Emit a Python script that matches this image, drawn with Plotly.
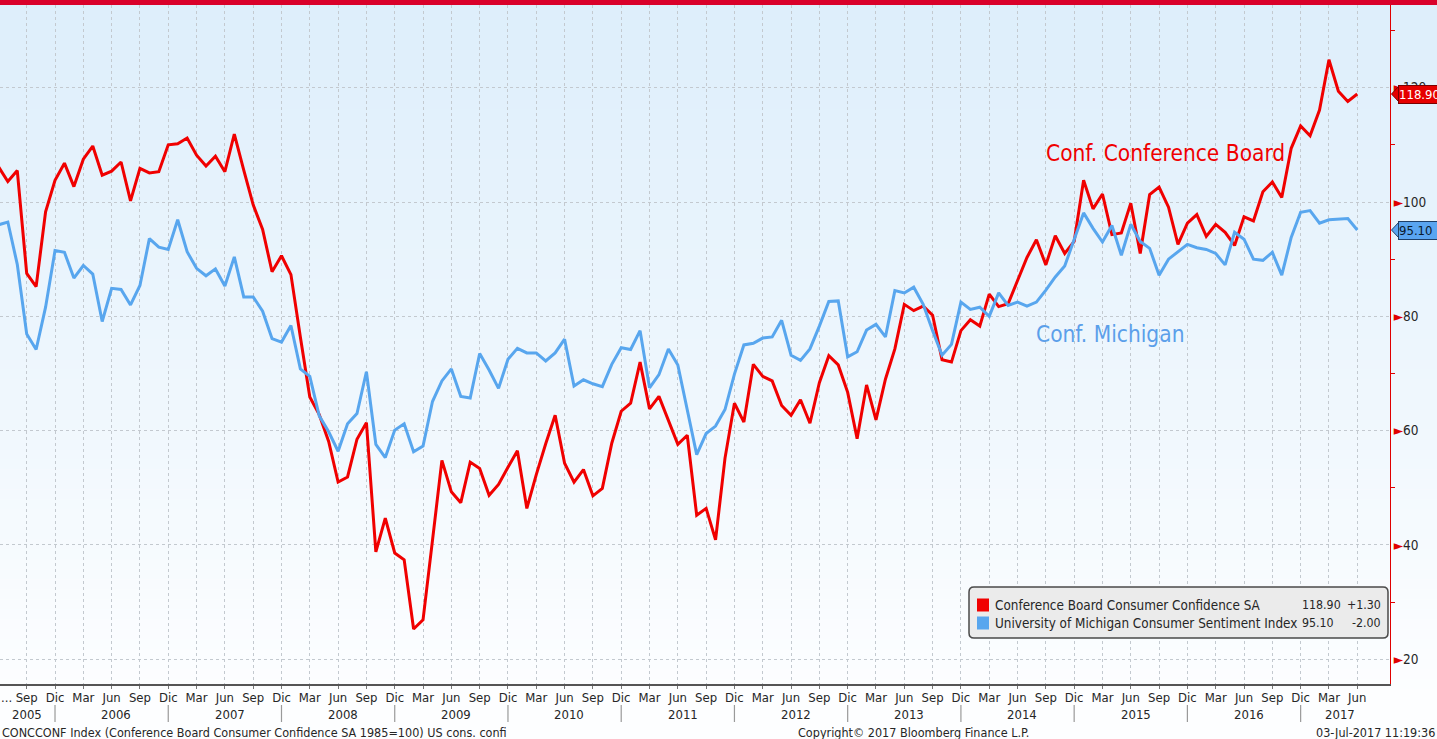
import plotly.graph_objects as go

# ---------------- data (monthly, Jun 2005 .. Jun 2017) ----------------
start_year, start_month = 2005, 6
conf_board = [
    106.2, 103.6, 105.5, 87.5, 85.2, 98.3, 103.8,                      # 2005 Jun-Dec
    106.8, 102.7, 107.5, 109.8, 104.7, 105.4, 107.0, 100.2, 105.9, 105.1, 105.3, 110.0,  # 2006
    110.2, 111.2, 108.2, 106.3, 108.0, 105.3, 111.9, 105.6, 99.5, 95.2, 87.8, 90.6,      # 2007
    87.3, 76.4, 65.9, 62.8, 58.1, 51.0, 51.9, 58.5, 61.4, 38.8, 44.7, 38.6,              # 2008
    37.4, 25.3, 26.9, 40.8, 54.8, 49.3, 47.4, 54.5, 53.4, 48.7, 50.6, 53.6,              # 2009
    56.5, 46.4, 52.3, 57.7, 62.7, 54.3, 51.0, 53.2, 48.6, 49.9, 57.8, 63.4,              # 2010
    64.8, 72.0, 63.8, 66.0, 61.7, 57.6, 59.2, 45.2, 46.4, 40.9, 55.2, 64.8,              # 2011
    61.5, 71.6, 69.5, 68.7, 64.4, 62.7, 65.4, 61.3, 68.4, 73.1, 71.5, 66.7,              # 2012
    58.6, 68.0, 61.9, 69.0, 74.3, 82.1, 81.0, 81.8, 80.2, 72.4, 72.0, 77.5,              # 2013
    79.4, 78.3, 83.9, 81.7, 82.2, 86.4, 90.3, 93.4, 89.0, 94.1, 91.0, 93.1,              # 2014
    103.8, 98.8, 101.4, 94.3, 94.6, 99.8, 91.0, 101.3, 102.6, 99.1, 92.6, 96.3,          # 2015
    97.8, 94.0, 96.1, 94.7, 92.4, 97.4, 96.7, 101.8, 103.5, 100.8, 109.4, 113.3,         # 2016
    111.6, 116.1, 124.9, 119.4, 117.6, 118.9,                                          # 2017
]
michigan = [
    96.0, 96.5, 89.1, 76.9, 74.2, 81.6, 91.5,                                          # 2005 Jun-Dec
    91.2, 86.7, 88.9, 87.4, 79.1, 84.9, 84.7, 82.0, 85.4, 93.6, 92.1, 91.7,            # 2006
    96.9, 91.3, 88.4, 87.1, 88.3, 85.3, 90.4, 83.4, 83.4, 80.9, 76.1, 75.5,            # 2007
    78.4, 70.8, 69.5, 62.6, 59.8, 56.4, 61.2, 63.0, 70.3, 57.6, 55.3, 60.1,            # 2008
    61.2, 56.3, 57.3, 65.1, 68.7, 70.8, 66.0, 65.7, 73.5, 70.6, 67.4, 72.5,            # 2009
    74.4, 73.6, 73.6, 72.2, 73.6, 76.0, 67.8, 68.9, 68.2, 67.7, 71.6, 74.5,            # 2010
    74.2, 77.5, 67.5, 69.8, 74.3, 71.5, 63.7, 55.8, 59.5, 60.8, 63.7, 69.9,            # 2011
    75.0, 75.3, 76.2, 76.4, 79.3, 73.2, 72.3, 74.3, 78.3, 82.6, 82.7, 72.9,            # 2012
    73.8, 77.6, 78.6, 76.4, 84.5, 84.1, 85.1, 82.1, 77.5, 73.2, 75.1, 82.5,            # 2013
    81.2, 81.6, 80.0, 84.1, 81.9, 82.5, 81.8, 82.5, 84.6, 86.9, 88.8, 93.6,            # 2014
    98.1, 95.4, 93.0, 95.9, 90.7, 96.1, 93.1, 91.9, 87.2, 90.0, 91.3, 92.6,            # 2015
    92.0, 91.7, 91.0, 89.0, 94.7, 93.5, 90.0, 89.8, 91.2, 87.2, 93.8, 98.2,            # 2016
    98.5, 96.3, 96.9, 97.0, 97.1, 95.1,                                                # 2017
]
series_names = ["Conference Board Consumer Confidence SA",
                "University of Michigan Consumer Sentiment Index"]
tick_months = ["Mar", "Jun", "Sep", "Dic"]
years = list(range(2005, 2018))
y_ticks = [20, 40, 60, 80, 100, 120]
y_minor = [30, 50, 70, 90, 110, 130]

# month index: Jan 2005 = 0
n = len(conf_board)
x_idx = [(start_year - 2005) * 12 + (start_month - 1) + i for i in range(n)]

RED = "#f00000"
BLUE = "#58a6ee"
FONT = "DejaVu Sans Condensed, DejaVu Sans, sans-serif"
TXT = "#262626"

# geometry (pixels)
W, H = 1437, 739
PL, PR, PT, PB = 0, 1390, 5, 684
PW, PH = PR - PL, PB - PT
Y0, Y1 = 15.68, 134.47


def px(xp):
    return (xp - PL) / PW


def py(yp):
    return (PB - yp) / PH


def note(x, y, text, size, color=TXT, xanchor="center", xref="paper", **kw):
    d = dict(x=x, y=y, xref=xref, yref="paper", text=text, showarrow=False,
             xanchor=xanchor, yanchor="middle", font=dict(family=FONT, size=size, color=color))
    d.update(kw)
    return d


fig = go.Figure()
fig.add_trace(go.Scatter(x=x_idx, y=conf_board, mode="lines", name=series_names[0],
                         line=dict(color=RED, width=3), hoverinfo="skip"))
fig.add_trace(go.Scatter(x=x_idx, y=michigan, mode="lines", name=series_names[1],
                         line=dict(color=BLUE, width=3), hoverinfo="skip"))

shapes = []
annotations = []

# background gradient (light blue at top to white at bottom)
top_c = (221, 238, 251)
bot_c = (253, 254, 255)
nb = 74
for i in range(nb):
    a = i * H / nb
    b = (i + 1) * H / nb
    t = min(1.0, (a + b) / 2 / 700)
    c = tuple(int(round(top_c[k] + (bot_c[k] - top_c[k]) * t)) for k in range(3))
    shapes.append(dict(type="rect", xref="paper", yref="paper", layer="below",
                       x0=px(-2), x1=px(W + 2), y0=py(b + 0.5), y1=py(a),
                       fillcolor="rgb(%d,%d,%d)" % c, line=dict(width=0)))

# red bar at the very top
shapes.append(dict(type="rect", xref="paper", yref="paper", layer="above",
                   x0=px(-2), x1=px(W + 2), y0=py(PT), y1=py(-1),
                   fillcolor="#d9002a", line=dict(width=0)))

# x ticks at quarter months
tickvals, ticktext = [], []
for yr in years:
    for mi, mname in zip([2, 5, 8, 11], tick_months):
        v = (yr - 2005) * 12 + mi
        if 8 <= v <= x_idx[-1]:
            tickvals.append(v)
            ticktext.append(mname)

# year separators at December ticks and year labels
for yr in years:
    dec = (yr - 2005) * 12 + 11
    if dec <= x_idx[-1]:
        shapes.append(dict(type="line", xref="x", yref="paper", x0=dec, x1=dec,
                           y0=py(705), y1=py(722), line=dict(color="#9a9a9a", width=1.2)))
    if yr == 2005:
        cx = 8
    elif yr == 2017:
        cx = 147.2
    else:
        cx = (yr - 2005) * 12 + 5.5
    annotations.append(note(cx, py(714), str(yr), 13, xref="x"))

annotations.append(note(px(-1), py(697), "...", 13, xanchor="left"))

# series labels on chart
annotations.append(note(px(1165), py(153), "Conf. Conference Board", 22.5, color=RED))
annotations.append(note(px(1110), py(334), "Conf. Michigan", 22.5, color="#5b9fea"))

# last-value tags on the right axis
tag_specs = [(conf_board[-1], "#e60000", "#7a0000", "white"),
             (michigan[-1], "#5aa5f0", "#1d3f68", "#0b1a2c")]
for val, fill, border, tcol in tag_specs:
    d = 8.5 / (PH / (Y1 - Y0))
    shapes.append(dict(type="path", xref="paper", yref="y",
                       path="M %f,%f L %f,%f L %f,%f Z" % (px(1391.5), val, px(1399.5), val + d, px(1399.5), val - d),
                       fillcolor=fill, line=dict(color=border, width=1), layer="above"))
    annotations.append(dict(x=px(1398), y=val, xref="paper", yref="y", text="%.2f" % val,
                            showarrow=False, xanchor="left", yanchor="middle",
                            bgcolor=fill, bordercolor=border, borderwidth=1, borderpad=0,
                            width=44, height=17, align="left",
                            font=dict(family=FONT, size=13, color=tcol)))

# legend box
shapes.append(dict(type="path", xref="paper", yref="paper", layer="above",
                   path="M {a},{b} L {c},{b} Q {e},{b} {e},{f} L {e},{g} Q {e},{h} {c},{h} "
                        "L {a},{h} Q {i},{h} {i},{g} L {i},{f} Q {i},{b} {a},{b} Z".format(
                            a=px(974), c=px(1383), e=px(1388), i=px(969),
                            b=py(587), f=py(592), g=py(633), h=py(638)),
                   fillcolor="#ebebeb", line=dict(color="#4a4a4a", width=1.5)))
changes = [conf_board[-1] - conf_board[-2], michigan[-1] - michigan[-2]]
lasts = [conf_board[-1], michigan[-1]]
for i, (nm, col) in enumerate(zip(series_names, [RED, BLUE])):
    yc = 605 + i * 18
    shapes.append(dict(type="rect", xref="paper", yref="paper", layer="above",
                       x0=px(977), x1=px(989), y0=py(yc + 6.5), y1=py(yc - 6.5),
                       fillcolor=col, line=dict(width=0)))
    annotations.append(note(px(993), py(yc), nm, 13.4, xanchor="left"))
    annotations.append(note(px(1300), py(yc), "%.2f" % lasts[i], 12.3, xanchor="left"))
    annotations.append(note(px(1383), py(yc), "%+.2f" % changes[i], 12.3, xanchor="right"))

# footer
annotations.append(note(px(0), py(732),
                        "CONCCONF Index (Conference Board Consumer Confidence SA 1985=100) US cons. confi",
                        12.5, xanchor="left"))
annotations.append(note(px(913), py(732), "Copyright© 2017 Bloomberg Finance L.P.", 12.5))
annotations.append(note(px(1437), py(732), "03-Jul-2017 11:19:36", 12.5, xanchor="right"))

y_ticktext = ['<span style="color:#e00000">►</span>%d' % v for v in y_ticks]

fig.update_layout(
    width=W, height=H,
    margin=dict(l=PL, r=W - PR, t=PT, b=H - PB, pad=0),
    paper_bgcolor="white",
    plot_bgcolor="rgba(0,0,0,0)",
    showlegend=False,
    shapes=shapes,
    annotations=annotations,
    font=dict(family=FONT, size=13, color=TXT),
    xaxis=dict(range=[5.17, 152.47], tickmode="array", tickvals=tickvals, ticktext=ticktext,
               showgrid=True, gridcolor="#c3c9cf", griddash="dot", gridwidth=1,
               showline=True, linecolor="#555555", linewidth=2,
               ticks="outside", ticklen=3, tickcolor="#777777", ticklabelstandoff=-3,
               tickfont=dict(family=FONT, size=13, color=TXT), zeroline=False,
               fixedrange=True),
    yaxis=dict(side="right", range=[Y0, Y1], tickmode="array", tickvals=y_ticks,
               ticktext=y_ticktext, showgrid=True, gridcolor="#c3c9cf", griddash="dot",
               gridwidth=1, showline=True, linecolor="#e00000", linewidth=1,
               ticks="", ticklen=0,
               minor=dict(tickvals=y_minor, ticks="outside", ticklen=4, tickcolor="#e00000",
                          showgrid=False),
               tickfont=dict(family=FONT, size=13.5, color=TXT), zeroline=False,
               fixedrange=True),
)

fig.write_html("out.html", config={"displayModeBar": False},
               post_script="document.body.style.margin='0px';document.body.style.overflow='hidden';")
